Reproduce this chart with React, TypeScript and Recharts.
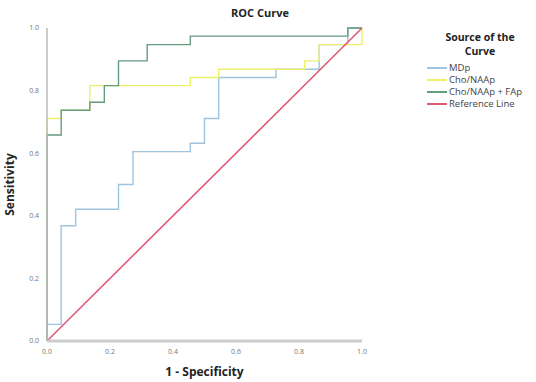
import React from 'react';
import { LineChart, Line, XAxis, YAxis, Label } from 'recharts';

// ROC points (1 - specificity, sensitivity)
const mdpFpr = [0, 0, 0.045, 0.045, 0.091, 0.091, 0.227, 0.227, 0.273, 0.273, 0.455, 0.455, 0.5, 0.5, 0.545, 0.545, 0.727, 0.727, 0.864, 0.864, 0.955, 0.955, 1];
const mdpTpr = [0, 0.053, 0.053, 0.368, 0.368, 0.421, 0.421, 0.5, 0.5, 0.605, 0.605, 0.632, 0.632, 0.711, 0.711, 0.842, 0.842, 0.868, 0.868, 0.947, 0.947, 1, 1];

const choFpr = [0, 0, 0.045, 0.045, 0.136, 0.136, 0.455, 0.455, 0.545, 0.545, 0.818, 0.818, 0.864, 0.864, 1, 1];
const choTpr = [0, 0.711, 0.711, 0.737, 0.737, 0.816, 0.816, 0.842, 0.842, 0.868, 0.868, 0.895, 0.895, 0.947, 0.947, 1];

const fapFpr = [0, 0, 0.045, 0.045, 0.136, 0.136, 0.182, 0.182, 0.227, 0.227, 0.318, 0.318, 0.455, 0.455, 0.955, 0.955, 1];
const fapTpr = [0, 0.658, 0.658, 0.737, 0.737, 0.763, 0.763, 0.816, 0.816, 0.895, 0.895, 0.947, 0.947, 0.974, 0.974, 1, 1];

const refFpr = [0, 1];
const refTpr = [0, 1];

const ticks = [0, 0.2, 0.4, 0.6, 0.8, 1.0];

const legendTitle = ['Source of the', 'Curve'];

const series = [
  { name: 'MDp', color: '#9ec4e0', fpr: mdpFpr, tpr: mdpTpr },
  { name: 'Cho/NAAp', color: '#eef06a', fpr: choFpr, tpr: choTpr },
  { name: 'Cho/NAAp + FAp', color: '#649c80', fpr: fapFpr, tpr: fapTpr },
  { name: 'Reference Line', color: '#e05a78', fpr: refFpr, tpr: refTpr },
];

const toPoints = (xs: number[], ys: number[]) => xs.map((x, i) => ({ x, y: ys[i] }));

const font = '"Open Sans", "DejaVu Sans", sans-serif';

export default function App() {
  return (
    <div style={{ position: 'absolute', left: 0, top: 0, width: 536, height: 382, background: '#fff', fontFamily: font }}>
      <LineChart width={536} height={382} margin={{ top: 28, right: 174, bottom: 0, left: 0 }}>
        <XAxis
          dataKey="x"
          type="number"
          domain={[0, 1]}
          ticks={ticks}
          tickFormatter={(v: number) => v.toFixed(1)}
          tickLine={false}
          axisLine={{ stroke: '#cccccc', strokeWidth: 3 }}
          tick={{ fontSize: 7, fill: '#777', fontFamily: font }}
          height={41}
          allowDuplicatedCategory={false}
        >
          <Label value="1 - Specificity" position="insideBottom" offset={6} style={{ fontSize: 12, fontWeight: 700, fill: '#222', fontFamily: font }} />
        </XAxis>
        <YAxis
          dataKey="y"
          type="number"
          domain={[0, 1]}
          ticks={ticks}
          tickFormatter={(v: number) => v.toFixed(1)}
          tickLine={false}
          axisLine={{ stroke: '#bbbbbb', strokeWidth: 1.5 }}
          tick={{ fontSize: 7, fill: '#777', fontFamily: font }}
          width={47}
        >
          <Label value="Sensitivity" angle={-90} position="insideLeft" offset={10} style={{ fontSize: 12, fontWeight: 700, fill: '#222', fontFamily: font, textAnchor: 'middle' }} />
        </YAxis>
        {series.map(s => (
          <Line
            key={s.name}
            data={toPoints(s.fpr, s.tpr)}
            dataKey="y"
            name={s.name}
            type="linear"
            stroke={s.color}
            strokeWidth={s.name === 'Reference Line' ? 1.6 : 1.4}
            dot={false}
            activeDot={false}
            isAnimationActive={false}
          />
        ))}
      </LineChart>
      <div style={{ position: 'absolute', left: 170, width: 180, top: 5, textAlign: 'center', fontSize: 11, fontWeight: 700, color: '#222' }}>
        ROC Curve
      </div>
      {legendTitle.map((t, i) => (
        <div key={t} style={{ position: 'absolute', left: 420, width: 120, top: 30 + i * 14, height: 14, textAlign: 'center', fontSize: 10.5, fontWeight: 700, color: '#222', lineHeight: '14px' }}>
          {t}
        </div>
      ))}
      <div style={{ position: 'absolute', left: 427, top: 62, fontSize: 9.5, color: '#444', lineHeight: '12px', whiteSpace: 'nowrap' }}>
        {series.map(s => (
          <div key={s.name} style={{ display: 'flex', alignItems: 'center', height: 12 }}>
            <span style={{ display: 'inline-block', width: 20, height: 2, background: s.color, marginRight: 2 }} />
            <span>{s.name}</span>
          </div>
        ))}
      </div>
    </div>
  );
}
